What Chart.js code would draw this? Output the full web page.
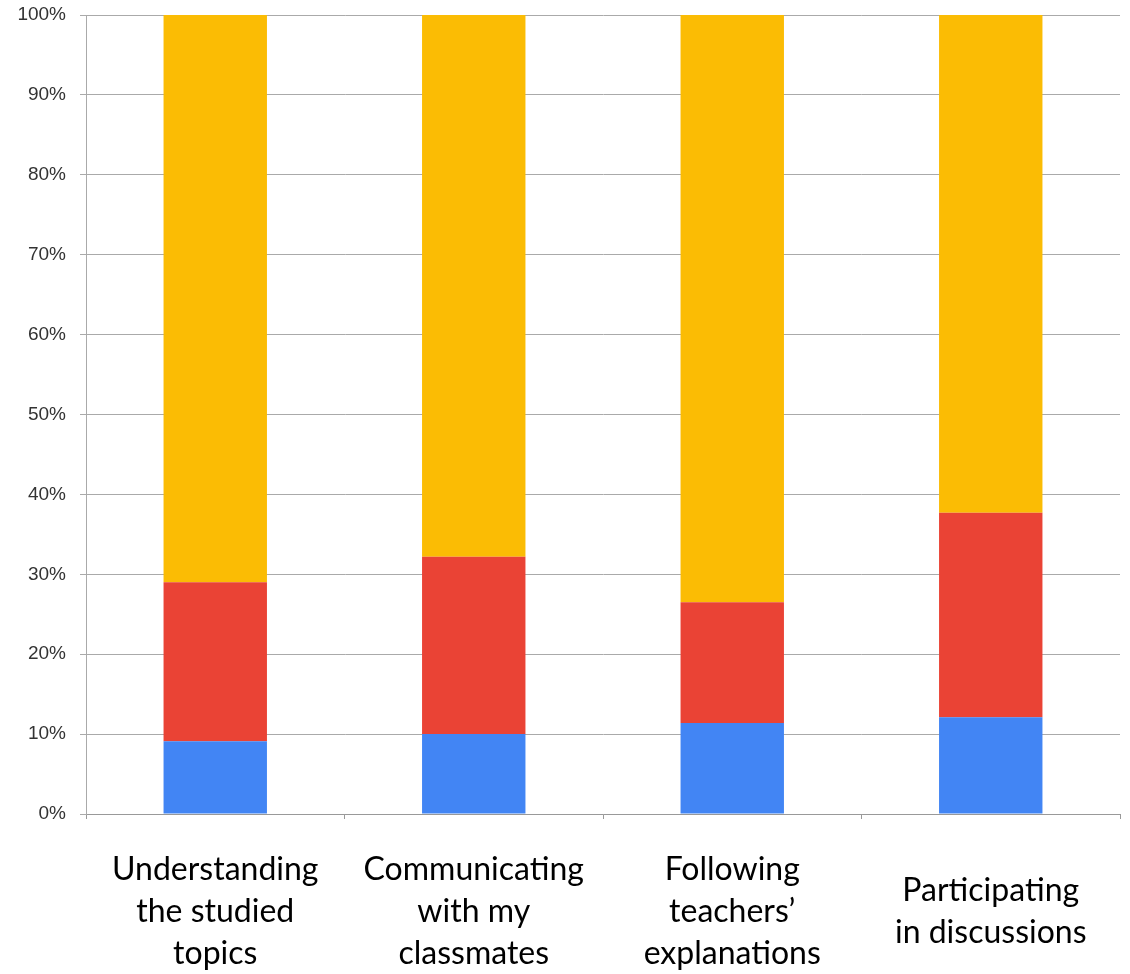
<!DOCTYPE html>
<html>
<head>
<meta charset="utf-8">
<script src="https://cdn.jsdelivr.net/npm/chart.js@4"></script>
<style>
  html, body { margin: 0; padding: 0; background: #fff; }
  #wrap { width: 1130px; height: 974px; }
</style>
</head>
<body>
<div id="wrap"><canvas id="myChart"></canvas></div>
<script>
var categories = [
  ['Understanding', 'the studied', 'topics'],
  ['Communicating', 'with my', 'classmates'],
  ['Following', 'teachers\u2019', 'explanations'],
  ['Participating', 'in discussions']
];
var blueValues = [9.1, 10.0, 11.4, 12.1];
var redValues = [19.9, 22.2, 15.1, 25.6];
var yellowValues = [71.0, 67.8, 73.5, 62.3];
var yTicks = [0, 10, 20, 30, 40, 50, 60, 70, 80, 90, 100];

const ctx = document.getElementById('myChart');

var chart = new Chart(ctx, {
  type: 'bar',
  data: {
    labels: categories,
    datasets: [
      { label: 'Blue', data: blueValues, backgroundColor: '#4285f4' },
      { label: 'Red', data: redValues, backgroundColor: '#ea4335' },
      { label: 'Yellow', data: yellowValues, backgroundColor: '#fbbc04' }
    ]
  },
  options: {
    responsive: true,
    maintainAspectRatio: false,
    animation: false,
    barPercentage: 0.4,
    categoryPercentage: 1,
    layout: {
      padding: { top: 15, right: 10, left: 0, bottom: 0 }
    },
    plugins: {
      legend: { display: false },
      tooltip: { enabled: false }
    },
    scales: {
      x: {
        stacked: true,
        grid: {
          display: true,
          drawOnChartArea: false,
          drawTicks: true,
          tickLength: 5,
          color: '#999'
        },
        border: { color: '#999', width: 1 },
        ticks: {
          color: '#000',
          padding: 51,
          maxRotation: 0,
          autoSkip: false,
          crossAlign: 'center',
          font: { family: 'Lato', size: 32, lineHeight: 1.31 }
        },
        afterFit: function (scale) {
          scale.height = 160;
          scale.paddingLeft = 0;
          scale.paddingRight = 0;
        }
      },
      y: {
        stacked: true,
        min: 0,
        max: 100,
        afterBuildTicks: function (scale) {
          scale.ticks = yTicks.map(v => ({ value: v }));
        },
        grid: {
          color: '#aaa',
          tickLength: 6
        },
        border: { color: '#aaa', width: 1 },
        ticks: {
          color: '#333',
          padding: 14,
          font: { family: 'Liberation Sans', size: 19 },
          callback: function (v) { return v + '%'; }
        },
        afterFit: function (scale) {
          scale.width = 86;
          scale.paddingTop = 0;
          scale.paddingBottom = 0;
        }
      }
    }
  }
});
</script>
</body>
</html>
